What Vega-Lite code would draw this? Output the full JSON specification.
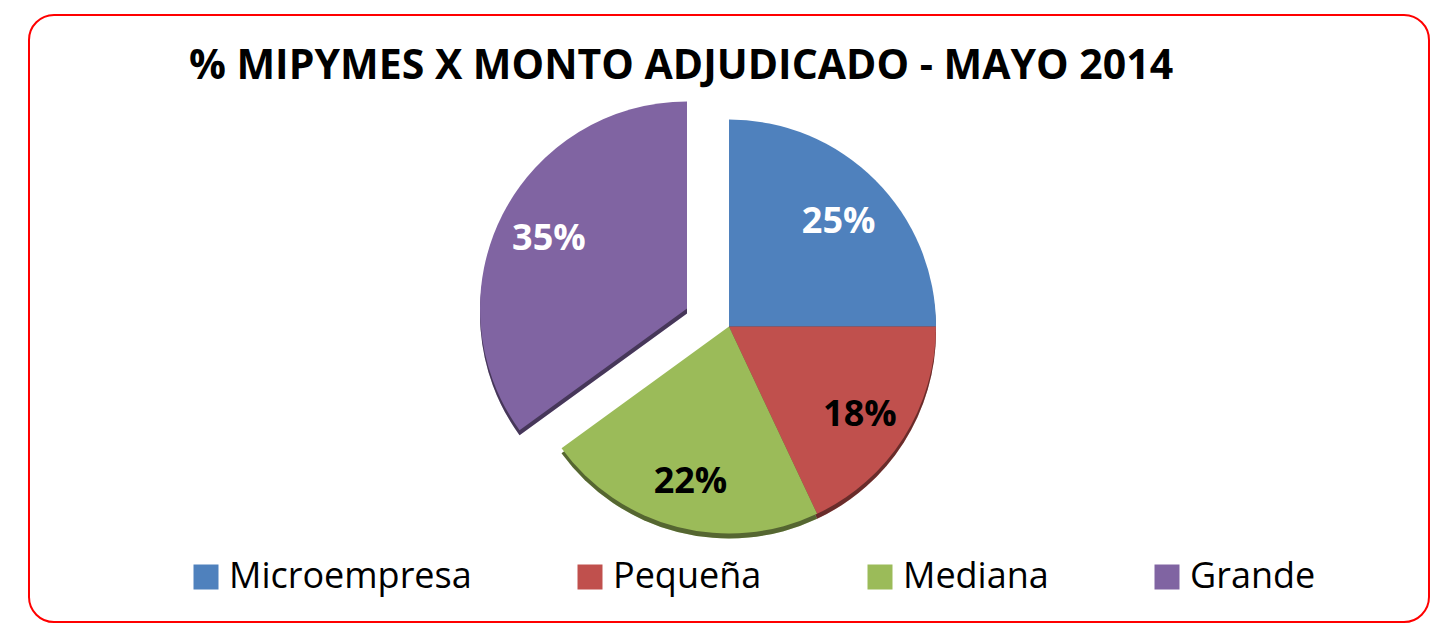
{
  "$schema": "https://vega.github.io/schema/vega-lite/v6.json",
  "width": 1400,
  "height": 607,
  "autosize": {"type": "none"},
  "padding": {"left": 29, "top": 15, "right": 7, "bottom": 20},
  "background": "white",
  "view": {"stroke": "#FF0000", "strokeWidth": 2, "cornerRadius": 25, "fill": "white"},
  "title": {
    "text": "% MIPYMES X MONTO ADJUDICADO - MAYO 2014",
    "font": "Open Sans",
    "fontWeight": "bold",
    "fontSize": 41,
    "color": "black",
    "anchor": "middle",
    "offset": -73,
    "dx": -48
  },
  "data": {
    "values": [
      {"category": "Microempresa", "pct": 25, "ord": 1, "label": "25%"},
      {"category": "Pequeña", "pct": 18, "ord": 2, "label": "18%"},
      {"category": "Mediana", "pct": 22, "ord": 3, "label": "22%"},
      {"category": "Grande", "pct": 35, "ord": 4, "label": "35%"}
    ]
  },
  "encoding": {
    "theta": {"field": "pct", "type": "quantitative", "stack": true},
    "order": {"field": "ord", "type": "ordinal"},
    "color": {
      "field": "category",
      "type": "nominal",
      "scale": {
        "domain": ["Microempresa", "Pequeña", "Mediana", "Grande"],
        "range": ["#4F81BD", "#C0504D", "#9BBB59", "#8064A2"]
      },
      "legend": {
        "orient": "none",
        "legendX": 159,
        "legendY": 544,
        "direction": "horizontal",
        "title": null,
        "symbolType": "square",
        "symbolSize": 625,
        "symbolStrokeWidth": 0,
        "labelFontSize": 36,
        "labelFont": "Open Sans",
        "labelColor": "black",
        "labelOffset": 5,
        "labelLimit": 0,
        "columnPadding": 100
      }
    }
  },
  "layer": [
    {
      "mark": {
        "type": "arc",
        "outerRadius": 207,
        "xOffset": {"expr": "datum.category === 'Grande' ? -42 : 0"},
        "yOffset": {"expr": "datum.category === 'Grande' ? -5 : 13"}
      }
    },
    {
      "mark": {
        "type": "arc",
        "outerRadius": 207,
        "opacity": 0.45,
        "xOffset": {"expr": "datum.category === 'Grande' ? -42 : 0"},
        "yOffset": {"expr": "datum.category === 'Grande' ? -5 : 13"}
      },
      "encoding": {"color": {"value": "black"}}
    },
    {
      "mark": {
        "type": "arc",
        "outerRadius": 207,
        "xOffset": {"expr": "datum.category === 'Grande' ? -42 : 0"},
        "yOffset": {"expr": "datum.category === 'Grande' ? -10 : 8"}
      }
    },
    {
      "mark": {
        "type": "text",
        "radius": 155,
        "font": "Open Sans",
        "fontWeight": "bold",
        "fontSize": 36,
        "xOffset": {"expr": "datum.category === 'Grande' ? -42 : 0"},
        "yOffset": {"expr": "datum.category === 'Grande' ? -9 : 13"}
      },
      "encoding": {
        "text": {"field": "label", "type": "nominal"},
        "color": {
          "condition": {"test": "datum.category === 'Microempresa' || datum.category === 'Grande'", "value": "white"},
          "value": "black"
        }
      }
    }
  ]
}
